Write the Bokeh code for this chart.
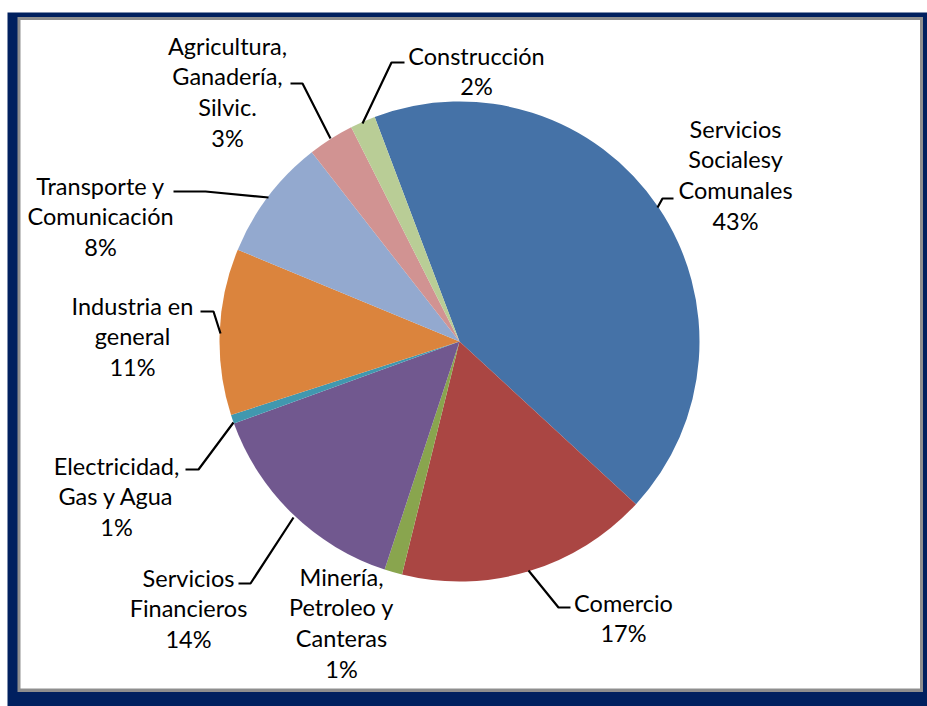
import math
from bokeh.plotting import figure
from bokeh.models import Range1d, ColumnDataSource
from bokeh.core.properties import value
from bokeh.embed import file_html
from bokeh.resources import INLINE

# ---- data ----
categories = ["Servicios Sociales y Comunales", "Comercio", "Minería, Petroleo y Canteras",
              "Servicios Financieros", "Electricidad, Gas y Agua", "Industria en general",
              "Transporte y Comunicación", "Agricultura, Ganadería, Silvic.", "Construcción"]
shares = [42.6, 17.0, 1.2, 14.4, 0.6, 11.2, 8.2, 3.1, 1.7]
label_lines = [["Servicios", "Socialesy", "Comunales"], ["Comercio"], ["Minería,", "Petroleo y", "Canteras"],
               ["Servicios", "Financieros"], ["Electricidad,", "Gas y Agua"], ["Industria en", "general"],
               ["Transporte y", "Comunicación"], ["Agricultura,", "Ganadería,", "Silvic."], ["Construcción"]]
colors = ["#4572A7", "#AA4643", "#89A54E", "#71588F", "#4198AF", "#DB843D", "#93A9CF", "#D19392", "#B9CD96"]

# ---- layout (page pixel coordinates) ----
W, H = 927, 706
def Y(py):
    return H - py

CX, CY, R = 459, 341, 240
FIRST_ANGLE = 339.3  # degrees clockwise from 12 o'clock
FONT = "Lato"
FS = "23.5px"
LINE = 30.8

# label anchor: (center x, y of first line)
label_pos = [(735, 128), (623, 602), (341, 576), (188, 577), (116, 465), (132, 305), (100, 185), (227, 45), (476, 55)]
leaders = [
    [(657, 207), (662, 198), (673, 198)],
    [(528, 570), (558, 607), (570, 607)],
    None,
    [(293, 517), (250, 583), (238, 583)],
    [(233, 422), (198, 469), (185, 469)],
    [(220, 333), (213, 311), (200, 311)],
    [(268, 197), (205, 191), (173, 191)],
    [(330, 138), (302, 83), (290, 83)],
    [(362, 123), (391, 62), (404, 62)],
]

p = figure(width=W, height=H, x_range=Range1d(0, W), y_range=Range1d(0, H),
           output_backend="svg", toolbar_location=None, min_border=0)
p.axis.visible = False
p.grid.visible = False
p.outline_line_color = None
p.background_fill_color = "white"
p.border_fill_color = "white"

# frame
p.quad(left=7, right=927, top=Y(12), bottom=Y(706), fill_color="#00205F", line_color=None)
p.quad(left=17, right=922.5, top=Y(16.5), bottom=Y(691.5), fill_color="#8E8E8E", line_color=None)
p.quad(left=20, right=919.5, top=Y(19.5), bottom=Y(688), fill_color="white", line_color=None)

# wedges
total = sum(shares)
starts, ends, pct = [], [], []
acc = FIRST_ANGLE
for s in shares:
    a0 = acc
    a1 = acc + s / total * 360.0
    starts.append(math.radians(90 - a0))
    ends.append(math.radians(90 - a1))
    pct.append("%d%%" % math.floor(s / total * 100 + 0.5))
    acc = a1

src = ColumnDataSource(dict(start=starts, end=ends, color=colors, cat=categories))
p.wedge(x=CX, y=Y(CY), radius=R, start_angle="start", end_angle="end", direction="clock",
        fill_color="color", line_color=None, source=src)

# leader lines
for pts in leaders:
    if pts is None:
        continue
    p.line([q[0] for q in pts], [Y(q[1]) for q in pts], line_color="black", line_width=2.2)

# labels
tx, ty, tt = [], [], []
for (lx, ly), lines, pc in zip(label_pos, label_lines, pct):
    for i, t in enumerate(lines + [pc]):
        tx.append(lx)
        ty.append(Y(ly + i * LINE))
        tt.append(t)
p.text(x=tx, y=ty, text=tt, text_align="center", text_baseline="middle",
       text_font=value(FONT), text_font_size=FS, text_color="black")

open("out.html", "w").write(file_html(p, INLINE))
